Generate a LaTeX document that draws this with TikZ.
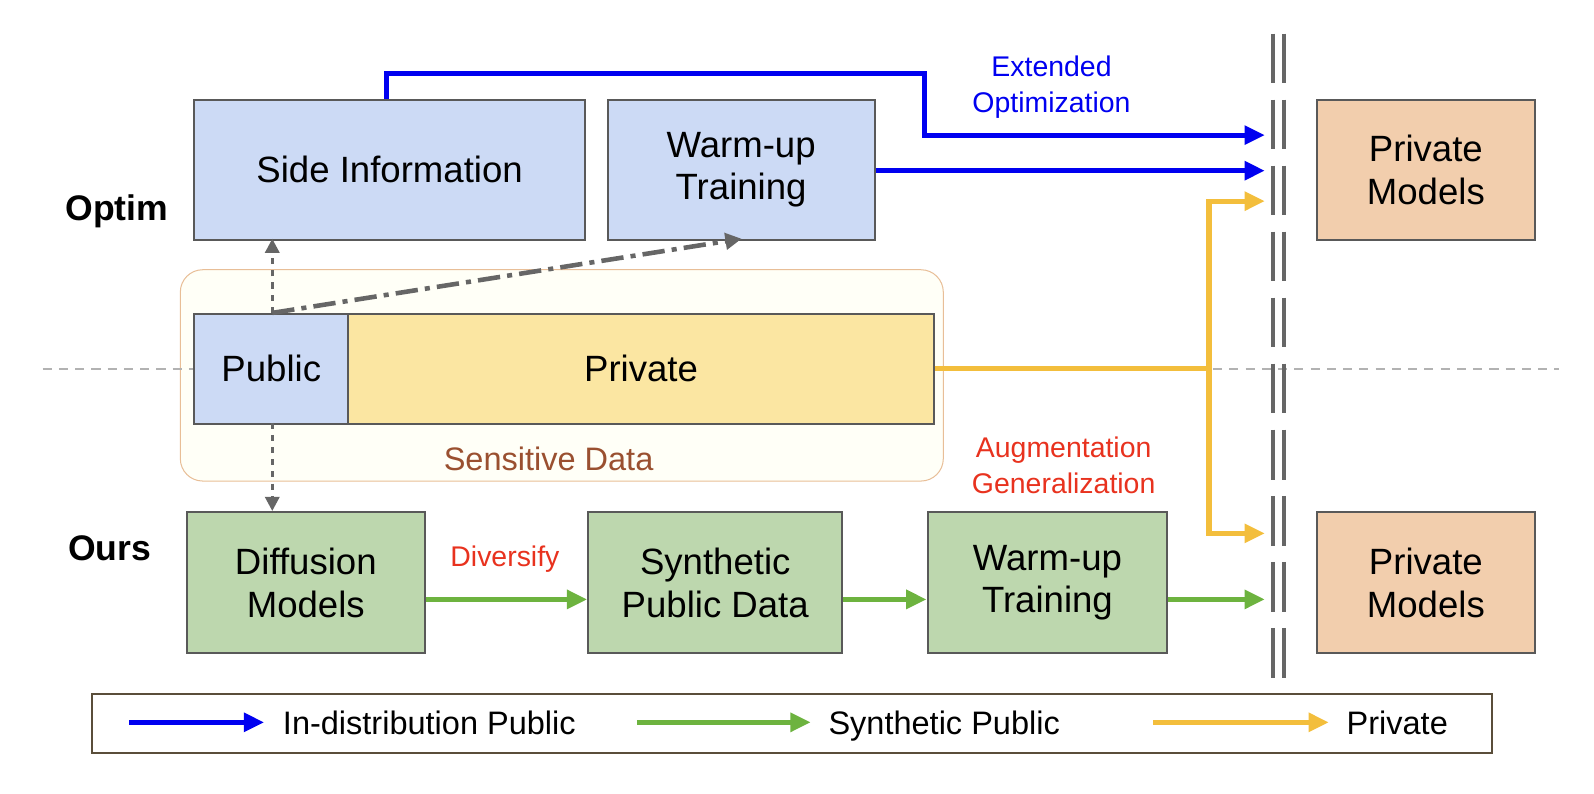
\documentclass[tikz,border=0pt]{standalone}
\usepackage{fontspec}
\setmainfont{Liberation Sans}
\usetikzlibrary{arrows.meta}
\definecolor{bl}{HTML}{CCDAF5}
\definecolor{gr}{HTML}{BDD7AE}
\definecolor{pe}{HTML}{F2CEAD}
\definecolor{ye}{HTML}{FBE6A2}
\definecolor{ora}{HTML}{F3BE3C}
\definecolor{grn}{HTML}{6DB33F}
\definecolor{blu}{HTML}{0000F0}
\definecolor{brn}{HTML}{9A5030}
\definecolor{rd}{HTML}{E8321E}
\definecolor{legc}{HTML}{5A4E3A}
\begin{document}
\begin{tikzpicture}[x=1pt,y=-1pt,
 box/.style={draw=black!65,line width=2pt,anchor=north west,inner sep=0pt,align=center,font=\fontsize{36}{42}\selectfont},
 lab/.style={font=\fontsize{28}{35}\selectfont,align=center},
 arr/.style={line width=5pt,-{Triangle[length=20pt,width=18pt]}},
 gd/.style={draw=black!60,line width=3pt,dash pattern=on 6pt off 6pt,-{Triangle[length=14pt,width=14pt]}}]
\useasboundingbox (0,0) rectangle (1569,781.5);
% sensitive data frame
\node[draw=pe!80!brown,fill=yellow!3,rounded corners=22pt,line width=1pt,minimum width=751pt,minimum height=208pt,anchor=north west] (sd) at (177,265) {};
\draw[black!30,line width=2pt,dash pattern=on 9pt off 7pt] (42,363) -- (1535,363);
\foreach \x in {1253,1264}\draw[black!60,line width=3.5pt,dash pattern=on 49pt off 16pt] (\x,33) -- (\x,669);
% top row
\node[box,fill=bl,minimum width=385pt,minimum height=138pt] (side) at (190,97) {Side Information};
\node[box,fill=bl,minimum width=263pt,minimum height=138pt] (wt) at (597,97) {Warm-up\\Training};
\node[box,fill=pe,minimum width=215pt,minimum height=138pt] (pt) at (1295,97) {Private\\Models};
% middle
\node[box,fill=bl,minimum width=152pt,minimum height=108pt] (pub) at (190,308) {Public};
\node[box,fill=ye,minimum width=576pt,minimum height=108pt] (priv) at (342,308) {Private};
\node[lab,text=brn,font=\fontsize{32}{38}\selectfont] (sdl) at (540,452) {Sensitive Data};
% bottom
\node[box,fill=gr,minimum width=234pt,minimum height=139pt] (dm) at (183,503) {Diffusion\\Models};
\node[box,fill=gr,minimum width=250pt,minimum height=139pt] (sp) at (578,503) {Synthetic\\Public Data};
\node[box,fill=gr,minimum width=236pt,minimum height=139pt] (wb) at (912,503) {Warm-up\\Training};
\node[box,fill=pe,minimum width=215pt,minimum height=139pt] (pb) at (1295,503) {Private\\Models};
\node[font=\bfseries\fontsize{35}{40}\selectfont] (opt) at (115,208) {Optim};
\node[font=\bfseries\fontsize{35}{40}\selectfont] (ours) at (108,540) {Ours};
% coordinates at barrier
\coordinate (b1) at (1245,133);
\coordinate (b2) at (1245,168);
\coordinate (b3) at (1245,198);
\coordinate (b4) at (1245,525);
\coordinate (b5) at (1245,590);
% blue
\draw[arr,blu] (380,97) -- (380,72) -- (910,72) -- (910,133) -- (b1);
\draw[arr,blu] (wt.east|-b2) -- (b2);
\node[lab,text=blu] (eo) at (1035,86) {Extended\\Optimization};
% orange
\draw[arr,ora,-] (priv.east) -- (1190,363);
\draw[arr,ora] (1190,363) -- (1190,198) -- (b3);
\draw[arr,ora] (1190,363) -- (1190,525) -- (b4);
\node[lab,text=rd] (ag) at (1047,458) {Augmentation\\Generalization};
% green
\draw[arr,grn] (dm.east|-b5) -- (sp.west|-b5);
\draw[arr,grn] (sp.east|-b5) -- (wb.west|-b5);
\draw[arr,grn] (wb.east|-b5) -- (b5);
\node[lab,text=rd] (dv) at (497,550) {Diversify};
% gray
\draw[gd] (268,308) -- (268,235);
\draw[gd] (268,416) -- (268,503);
\draw[draw=black!60,line width=4.5pt,dash pattern=on 22pt off 7pt on 5pt off 7pt,-{Triangle[length=16pt,width=16pt]}] (268,308) -- (730,235);
% legend
\node[draw=legc,line width=2pt,minimum width=1378pt,minimum height=58pt,anchor=north west] (leg) at (90,682) {};
\coordinate (l1a) at (127,711); \coordinate (l1b) at (260,711);
\coordinate (l2a) at (627,711); \coordinate (l2b) at (798,711);
\coordinate (l3a) at (1135,711); \coordinate (l3b) at (1308,711);
\draw[arr,blu] (l1a) -- (l1b);
\draw[arr,grn] (l2a) -- (l2b);
\draw[arr,ora] (l3a) -- (l3b);
\node[anchor=base west,font=\fontsize{32}{38}\selectfont] (t1) at (275,723) {In-distribution Public};
\node[anchor=base west,font=\fontsize{32}{38}\selectfont] (t2) at (812,723) {Synthetic Public};
\node[anchor=base west,font=\fontsize{32}{38}\selectfont] (t3) at (1322,723) {Private};
\end{tikzpicture}
\end{document}
